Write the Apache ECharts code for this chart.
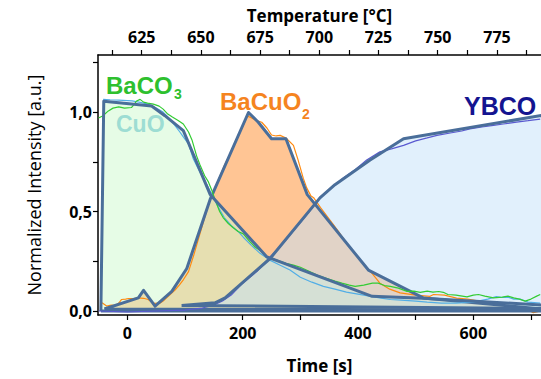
<!DOCTYPE html>
<html>
<head>
<meta charset="utf-8">
<script src="https://cdn.jsdelivr.net/npm/echarts@6/dist/echarts.min.js"></script>
<style>
html,body{margin:0;padding:0;background:#fff;}
#chart{width:541px;height:379px;}
</style>
</head>
<body>
<div id="chart"></div>
<script>
// ---- axes ----
const timeTicks = [0, 100, 200, 300, 400, 500, 600, 700];
const timeLabels = [0, 200, 400, 600];
const tempTicks = [612.5, 625, 637.5, 650, 662.5, 675, 687.5, 700, 712.5, 725, 737.5, 750, 762.5, 775, 787.5];
const tempLabels = [625, 650, 675, 700, 725, 750, 775];
const yTicks = [0, 0.25, 0.5, 0.75, 1.0, 1.25];
const yLabels = [0, 0.5, 1.0];

// ---- fitted polygons (time [s], normalized intensity) ----
const bacuo2Poly = [[-40, 0.01], [19, 0.066], [28, 0.104], [48, 0.025], [77, 0.099], [103, 0.214], [143.5, 0.561],
  [210, 0.998], [227, 0.949], [250, 0.866], [275, 0.866], [312, 0.585], [418, 0.206], [513, 0.066], [720, 0.01],
  [720, 0.005], [-40, 0.01]];
const baco3Poly = [[-46, 0.0], [-41, 1.055], [42, 1.031], [65, 0.982], [97, 0.907], [143.5, 0.586], [242, 0.272],
  [424.5, 0.074], [513, 0.064], [720, 0.03], [720, 0.0], [-46, 0.0]];
const ybcoPoly = [[94, 0.028], [152, 0.041], [169.5, 0.066], [224.5, 0.206], [247.5, 0.264], [334, 0.569], [360, 0.635],
  [421, 0.759], [479, 0.866], [720, 0.984], [720, 0.012], [94, 0.028]];

// ---- measured curves ----
const baco3Raw = [[-50, 0.97], [-43, 0.98], [-33, 1.006], [-25, 1.02], [-15, 1.026], [-5, 1.02], [7, 1.023], [12, 1.04],
  [16, 1.056], [22, 1.064], [28, 1.05], [35, 1.045], [45, 1.04], [55, 1.03], [62, 1.015], [70, 0.99], [78, 0.975],
  [88, 0.958], [97, 0.94], [106, 0.9], [112, 0.86], [120, 0.78], [126, 0.734], [134, 0.68], [140, 0.652], [146, 0.61],
  [152, 0.56], [160, 0.5], [166, 0.47], [175, 0.44], [183, 0.42], [192, 0.4], [201, 0.388], [212, 0.35], [222, 0.32],
  [232, 0.3], [242, 0.272], [255, 0.26], [265, 0.25], [275, 0.24], [288, 0.231], [300, 0.22], [315, 0.2], [330, 0.18],
  [345, 0.165], [360, 0.15], [372, 0.14], [385, 0.13], [395, 0.124], [410, 0.13], [425, 0.14], [435, 0.14], [446, 0.128],
  [456, 0.124], [470, 0.115], [485, 0.099], [497, 0.1], [508, 0.094], [520, 0.1], [530, 0.095], [540, 0.098], [548, 0.094],
  [556, 0.083], [570, 0.08], [589, 0.071], [600, 0.08], [609, 0.083], [620, 0.075], [635, 0.066], [650, 0.07], [660, 0.075],
  [670, 0.066], [680, 0.06], [690, 0.05], [700, 0.06], [710, 0.075], [716, 0.083]];
const cuoRaw = [[-42, 1.064], [-30, 1.062], [-15, 1.06], [0, 1.058], [8, 1.056], [20, 1.05], [36, 1.04], [50, 1.02],
  [62, 1.0], [72, 0.97], [82, 0.935], [91, 0.9], [97, 0.875], [106, 0.84], [114, 0.767], [122, 0.72], [130, 0.675],
  [138, 0.635], [149, 0.57], [158, 0.52], [168, 0.47], [180, 0.43], [192, 0.4], [201, 0.371], [215, 0.33], [230, 0.29],
  [247, 0.256], [265, 0.23], [282, 0.206], [300, 0.17], [320, 0.145], [340, 0.124], [360, 0.11], [380, 0.095], [400, 0.085],
  [420, 0.075], [440, 0.065], [456, 0.058], [475, 0.055], [500, 0.05], [520, 0.045], [545, 0.04], [570, 0.04], [600, 0.045],
  [625, 0.06], [640, 0.072], [650, 0.068], [660, 0.07], [670, 0.06], [681, 0.06], [695, 0.045], [716, 0.04]];
const bacuo2Raw = [[-44, 0.041], [-36, 0.025], [-28, 0.03], [-21, 0.028], [-15, 0.04], [-10, 0.058], [-3, 0.06], [2, 0.063],
  [10, 0.062], [19, 0.066], [28, 0.064], [36, 0.058], [42, 0.045], [48, 0.038], [57, 0.041], [62, 0.05], [68, 0.066],
  [75, 0.085], [83, 0.107], [90, 0.13], [97, 0.157], [106, 0.198], [115, 0.28], [125, 0.38], [135, 0.48], [143, 0.555],
  [155, 0.64], [168, 0.73], [180, 0.8], [192, 0.88], [202, 0.94], [208, 0.98], [213, 0.974], [222, 0.96], [233, 0.949],
  [242, 0.92], [250, 0.885], [258, 0.88], [265, 0.883], [275, 0.87], [288, 0.833], [296, 0.76], [305, 0.668], [311, 0.619],
  [318, 0.58], [323, 0.57], [335, 0.52], [352, 0.454], [366, 0.4], [381, 0.338], [395, 0.29], [409, 0.239], [424, 0.19],
  [438, 0.14], [455, 0.11], [473, 0.091], [500, 0.08], [525, 0.074], [531, 0.083], [550, 0.08], [571, 0.065], [590, 0.06],
  [610, 0.05], [630, 0.04], [650, 0.03], [670, 0.02], [690, 0.01], [698, 0.0], [704, -0.008], [710, -0.005], [716, 0.0]];
const ybcoRaw = [[-50, 0.0], [0, -0.005], [50, 0.0], [100, 0.005], [130, 0.015], [150, 0.03], [165, 0.05], [180, 0.08],
  [200, 0.14], [225, 0.2], [250, 0.28], [270, 0.34], [290, 0.41], [310, 0.48], [335, 0.575], [357, 0.627], [375, 0.67],
  [395, 0.71], [415, 0.759], [438, 0.8], [458, 0.815], [479, 0.833], [500, 0.855], [520, 0.87], [537, 0.883], [560, 0.895],
  [580, 0.905], [594, 0.916], [615, 0.925], [635, 0.933], [652, 0.94], [675, 0.95], [695, 0.957], [716, 0.965]];

const OUTLINE = '#4a6e9a';
const FONT = 'Open Sans';
const LABFONT = 'Liberation Sans';

function poly(name, data, fill) {
  return {
    name: name, type: 'line', data: data, xAxisIndex: 0, yAxisIndex: 0,
    showSymbol: false, symbol: 'none', smooth: false, silent: true,
    lineStyle: { color: OUTLINE, width: 3, join: 'round' },
    areaStyle: { color: fill, opacity: 1, origin: 0 }
  };
}
function raw(name, data, color) {
  return {
    name: name, type: 'line', data: data, xAxisIndex: 0, yAxisIndex: 0,
    showSymbol: false, symbol: 'none', smooth: false, silent: true,
    lineStyle: { color: color, width: 1.2 }
  };
}

const chart = echarts.init(document.getElementById('chart'), null, { renderer: 'svg' });
const axisLineStyle = { show: true, onZero: false, lineStyle: { color: '#000', width: 1.5 } };
const tickLabelStyle = { fontFamily: FONT, fontSize: 16, fontWeight: 'bold', color: '#000' };
const nameStyle = { fontFamily: FONT, fontSize: 17, fontWeight: 'bold', color: '#000' };

chart.setOption({
  animation: false,
  backgroundColor: '#fff',
  grid: { left: 98, right: 0, top: 55, bottom: 60, containLabel: false },
  xAxis: [
    {
      type: 'value', position: 'bottom', min: -51, max: 717.4,
      axisLine: axisLineStyle, splitLine: { show: false },
      axisTick: { show: true, inside: false, length: 5, lineStyle: { color: '#000', width: 1.2 }, customValues: timeTicks },
      axisLabel: Object.assign({ margin: 10, customValues: timeLabels }, tickLabelStyle),
      name: 'Time [s]', nameLocation: 'middle', nameGap: 42, nameTextStyle: nameStyle
    },
    {
      type: 'value', position: 'top', min: 606.55, max: 793.6,
      axisLine: axisLineStyle, splitLine: { show: false },
      axisTick: { show: true, inside: false, length: 5, lineStyle: { color: '#000', width: 1.2 }, customValues: tempTicks },
      axisLabel: Object.assign({ margin: 10, customValues: tempLabels }, tickLabelStyle),
      name: 'Temperature [°C]', nameLocation: 'middle', nameGap: 31, nameTextStyle: nameStyle
    }
  ],
  yAxis: [
    {
      type: 'value', min: -0.02, max: 1.287,
      axisLine: axisLineStyle, splitLine: { show: false },
      axisTick: { show: true, inside: false, length: 5, lineStyle: { color: '#000', width: 1.2 }, customValues: yTicks },
      axisLabel: Object.assign({ margin: 6, customValues: yLabels,
        formatter: function (v) { return v.toFixed(1).replace('.', ','); } }, tickLabelStyle),
      name: 'Normalized Intensity [a.u.]', nameLocation: 'middle', nameGap: 55,
      nameTextStyle: { fontFamily: FONT, fontSize: 18, fontWeight: 'normal', color: '#000' }
    }
  ],
  series: [
    raw('BaCuO2 data', bacuo2Raw, '#ff8a10'),
    poly('BaCuO2 fit', bacuo2Poly, 'rgba(255,150,60,0.55)'),
    raw('CuO data', cuoRaw, '#52aee6'),
    raw('BaCO3 data', baco3Raw, '#33cc33'),
    poly('BaCO3 fit', baco3Poly, 'rgba(205,249,205,0.5)'),
    raw('YBCO data', ybcoRaw, '#5a5ad0'),
    poly('YBCO fit', ybcoPoly, 'rgba(195,225,249,0.5)')
  ],
  graphic: [
    { type: 'text', x: 106, y: 85, silent: true, style: { text: 'BaCO', fill: '#2ec02e', font: 'bold 24px "' + LABFONT + '"', align: 'left', verticalAlign: 'middle' } },
    { type: 'text', x: 174, y: 94, silent: true, style: { text: '3', fill: '#2ec02e', font: 'bold 14px "' + LABFONT + '"', align: 'left', verticalAlign: 'middle' } },
    { type: 'text', x: 116, y: 124, silent: true, style: { text: 'CuO', fill: '#6cc0d8', font: 'bold 23px "' + LABFONT + '"', align: 'left', verticalAlign: 'middle' } },
    { type: 'text', x: 220, y: 101.5, silent: true, style: { text: 'BaCuO', fill: '#f5841f', font: 'bold 24px "' + LABFONT + '"', align: 'left', verticalAlign: 'middle' } },
    { type: 'text', x: 302, y: 114, silent: true, style: { text: '2', fill: '#f5841f', font: 'bold 14px "' + LABFONT + '"', align: 'left', verticalAlign: 'middle' } },
    { type: 'text', x: 464, y: 106, silent: true, style: { text: 'YBCO', fill: '#141490', font: 'bold 25px "' + LABFONT + '"', align: 'left', verticalAlign: 'middle' } }
  ]
});
</script>
</body>
</html>
